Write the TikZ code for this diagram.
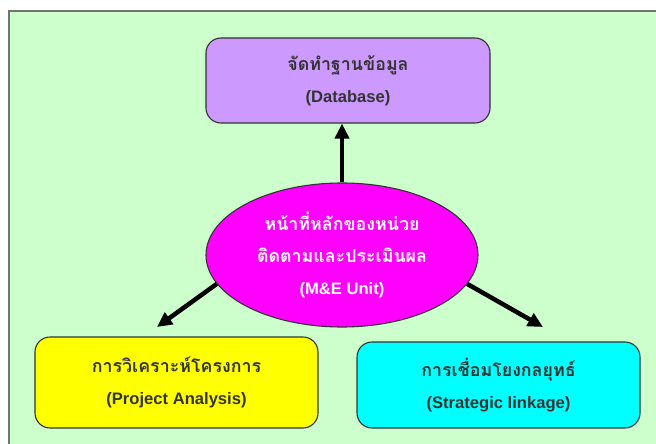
\documentclass[tikz,border=0pt]{standalone}
\usepackage{fontspec}
\setmainfont{Liberation Sans}
\newfontfamily\thai[Script=Thai]{Loma}
\usetikzlibrary{arrows.meta,shapes.geometric}
\definecolor{bggreen}{HTML}{CCFFCC}
\definecolor{dbpurple}{HTML}{CC99FF}
\definecolor{unitpink}{HTML}{FF00FF}
\definecolor{projyellow}{HTML}{FFFF00}
\definecolor{stratcyan}{HTML}{00FFFF}
\definecolor{edgegray}{HTML}{333333}
\newcommand{\thtext}[1]{{\thai\fontsize{17.8}{32}\selectfont #1}}
\begin{document}
\begin{tikzpicture}[x=1pt,y=-1pt,
    box/.style={draw=edgegray,line width=1.1pt,rounded corners=15pt,align=center,
      inner sep=0pt,font=\bfseries\fontsize{16.6}{32}\selectfont,text=black!80},
    arr/.style={line width=4.5pt,-{Triangle[length=15pt,width=14pt]}}]
    \useasboundingbox (0,0) rectangle (656,444);
    \fill[bggreen] (9,11) rectangle (656,444);
    \draw[gray!90!black,line width=1.5pt] (9,444) -- (9,11) -- (656,11);
        \node[box,fill=dbpurple,minimum width=284,minimum height=85] (db) at (348,80.5) {\thtext{จัดทำฐานข้อมูล}\\(Database)};
        \node[box,fill=projyellow,minimum width=283,minimum height=91] (proj) at (176.5,382.5) {\thtext{การวิเคราะห์โครงการ}\\(Project Analysis)};
        \node[box,fill=stratcyan,minimum width=283,minimum height=86] (strat) at (498.5,385) {\thtext{การเชื่อมโยงกลยุทธ์}\\(Strategic linkage)};
    \node[ellipse,draw=edgegray,line width=1.1pt,fill=unitpink,minimum width=272,minimum height=144,
      inner sep=0pt,align=center,text=white,font=\bfseries\fontsize{16.6}{32}\selectfont] (mne) at (342,255)
      {\thtext{หน้าที่หลักของหน่วย}\\\thtext{ติดตามและประเมินผล}\\(M\&E Unit)};
    \coordinate (projtip) at (157,327);
    \coordinate (strattip) at (543,327);
    \draw [arr] (mne) -- (mne |- db.south);
    \draw [arr] (mne.193) -- (projtip);
    \draw [arr] (mne.347) -- (strattip);
    \end{tikzpicture}
\end{document}
